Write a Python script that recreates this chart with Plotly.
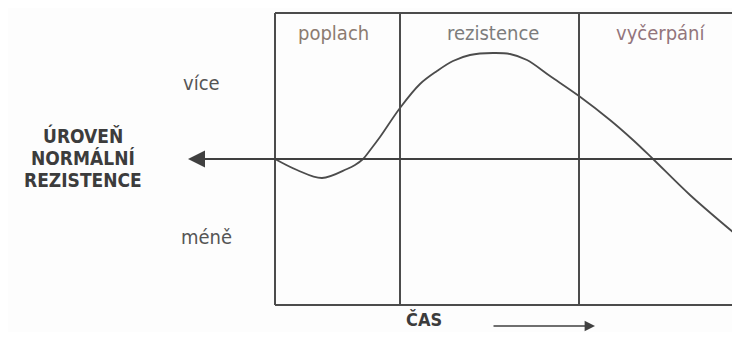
import plotly.graph_objects as go

# time (arbitrary units) and resistance level relative to normal (0)
time = [0, 2.2, 4.7, 7.2, 8.0, 8.8, 9.6, 10.5, 12.5, 14.5, 16.2, 17.8, 19.5, 21.8, 23.5,
        25.2, 27.5, 30.4, 33.5, 35.8, 37.8, 41.5, 46.5]
level = [0, -1.1, -1.9, -1.0, -0.6, 0, 1.0, 2.2, 5.1, 7.5, 8.8, 9.8, 10.4, 10.6, 10.5,
         9.9, 8.3, 6.3, 3.9, 1.9, 0, -3.6, -7.9]

phase_bounds = [0, 12.5, 30.4, 48]
phase_names = ["poplach", "rezistence", "vyčerpání"]
phase_colors = ["#8c7b70", "#7c7c7c", "#93757c"]
level_names = ["více", "méně"]
axis_title = ["ÚROVEŇ", "NORMÁLNÍ", "REZISTENCE"]

level_top = 14.6
level_bottom = -14.6

FONT = "Liberation Sans Narrow, DejaVu Sans Condensed, Arial Narrow, sans-serif"
LINE = "#4c4c4c"

fig = go.Figure()

fig.add_trace(go.Scatter(
    x=time, y=level, mode="lines", line_shape="spline",
    line=dict(color=LINE, width=1.8), showlegend=False, hoverinfo="skip"))

# frame of the diagram
for yy in [level_top, level_bottom]:
    fig.add_shape(type="line", x0=phase_bounds[0], x1=phase_bounds[-1], y0=yy, y1=yy,
                  line=dict(color=LINE, width=2))
for b in phase_bounds[:-1]:
    fig.add_shape(type="line", x0=b, x1=b, y0=level_bottom, y1=level_top,
                  line=dict(color=LINE, width=2))

# phase labels
label_x = [5.8, 21.8, 38.6]
for name, lx, col in zip(phase_names, label_x, phase_colors):
    fig.add_annotation(x=lx, y=12.6, text=name, showarrow=False,
                       font=dict(family=FONT, size=20, color=col))

# normal resistance line with arrow to the left
fig.add_annotation(x=-8.7, y=0, ax=48, ay=0, xref="x", yref="y", axref="x", ayref="y",
                   text="", showarrow=True, arrowhead=2, arrowsize=1.7, arrowwidth=2,
                   arrowcolor="#404040")

for txt, yy in zip(axis_title, [2.4, 0.1, -2.1]):
    fig.add_annotation(x=-19.2, y=yy, text=txt, showarrow=False,
                       font=dict(family=FONT, size=19, color="#3c3c3c", weight="bold"))

fig.add_annotation(x=-7.4, y=7.6, text=level_names[0], showarrow=False,
                   font=dict(family=FONT, size=20, color="#555555"))
fig.add_annotation(x=-6.9, y=-7.8, text=level_names[1], showarrow=False,
                   font=dict(family=FONT, size=20, color="#555555"))

# time axis label
fig.add_annotation(x=14.9, y=-16.0, text="ČAS", showarrow=False,
                   font=dict(family=FONT, size=18, color="#3c3c3c", weight="bold"))
fig.add_annotation(x=32.0, y=-16.7, ax=21.7, ay=-16.7, xref="x", yref="y", axref="x", ayref="y",
                   text="", showarrow=True, arrowhead=2, arrowsize=1.3, arrowwidth=1.6,
                   arrowcolor="#404040")

fig.update_layout(
    width=724, height=324,
    margin=dict(l=0, r=0, t=0, b=0),
    paper_bgcolor="#fdfdfd", plot_bgcolor="#fdfdfd",
    xaxis=dict(range=[-26.7, 45.7], visible=False),
    yaxis=dict(range=[-17.3, 15.1], visible=False),
)

fig.write_html("out.html")
